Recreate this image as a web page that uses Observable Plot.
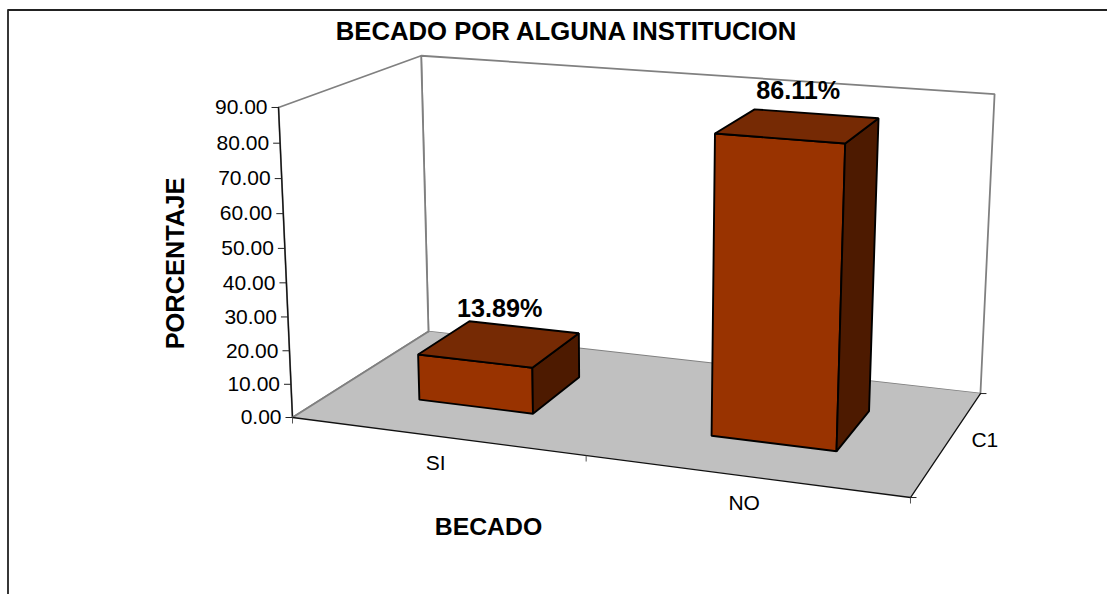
<!DOCTYPE html>
<html>
<head>
<meta charset="utf-8">
<style>html,body{margin:0;padding:0;background:#fff}svg{display:block}</style>
<script src="https://cdn.jsdelivr.net/npm/d3@7"></script>
<script src="https://cdn.jsdelivr.net/npm/@observablehq/plot@0.6"></script>
</head>
<body>
<div id="chart"></div>
<script>
const title = "BECADO POR ALGUNA INSTITUCION";
const categories = ["SI", "NO"];
const values = [13.89, 86.11];
const valueLabels = ["13.89%", "86.11%"];
const valueTicks = [0, 10, 20, 30, 40, 50, 60, 70, 80, 90];
const seriesLabel = "C1";
const yTitle = "PORCENTAJE";
const xTitle = "BECADO";

const vMax = 90;
const W = 1107, H = 594;
const FONT = "Liberation Sans, Arial, sans-serif";

// Perspective camera for the chart box: u = category axis (0..1), v = depth (0..1), value = 0..vMax
function project(u, v, val) {
  const w = val / vMax;
  const d = 1 - 0.0946 * u + 0.1316 * v - 0.04 * w;
  return [
    (292 + 531.9 * u + 192.3 * v - 25.1 * w) / d,
    (417 + 33 * u - 42.4 * v - 314.3 * w) / d
  ];
}
const pt = (u, v, val, id) => { const [x, y] = project(u, v, val); return {x, y, id}; };
const face = (id, corners) => corners.map(c => pt(c[0], c[1], c[2], id));

const floor = face("floor", [[0,0,0],[1,0,0],[1,1,0],[0,1,0]]);
const backWall = face("back", [[0,1,0],[1,1,0],[1,1,vMax],[0,1,vMax]]);
const leftWall = face("left", [[0,0,0],[0,1,0],[0,1,vMax],[0,0,vMax]]);

const n = categories.length;
const barHalf = 0.1, vFront = 0.3, vBack = 0.7;
const centers = categories.map((_, i) => (i + 0.5) / n);
const barFaces = kind => values.flatMap((val, i) => {
  const a = centers[i] - barHalf, b = centers[i] + barHalf, id = kind + i;
  if (kind === "front") return face(id, [[a,vFront,0],[b,vFront,0],[b,vFront,val],[a,vFront,val]]);
  if (kind === "top") return face(id, [[a,vFront,val],[b,vFront,val],[b,vBack,val],[a,vBack,val]]);
  return face(id, [[b,vFront,0],[b,vBack,0],[b,vBack,val],[b,vFront,val]]);
});

const poly = (data, fill, stroke, strokeWidth) => Plot.line(data, {
  x: "x", y: "y", z: "id", curve: "linear-closed", fill, stroke, strokeWidth, strokeLinejoin: "miter"
});
const seg = (p, q, stroke, strokeWidth) => Plot.line([p, q], {x: "x", y: "y", stroke, strokeWidth});

const valueTickLinks = valueTicks.map(t => {
  const p = pt(0, 0, t);
  return {x1: p.x - 7, x2: p.x, y: p.y, t};
});
const xTickAt = [0, 0.5, 1].map(u => pt(u, 0, 0));
const depthTickAt = [0, 1].map(v => pt(1, v, 0));
const catPts = categories.map((c, i) => ({...pt(centers[i], 0, 0), c}));
const labPts = values.map((val, i) => ({...pt(centers[i], 0.5, val), t: valueLabels[i]}));
const sPt = {...pt(1, 0.5, 0), t: seriesLabel};

const plot = Plot.plot({
  width: W, height: H,
  marginTop: 0, marginRight: 0, marginBottom: 0, marginLeft: 0,
  x: {type: "linear", domain: [0, W], range: [0, W], axis: null},
  y: {type: "linear", domain: [0, H], range: [0, H], axis: null},
  style: {fontFamily: FONT, background: "#fff", color: "#000"},
  marks: [
    // chart-area frame, open at the right and bottom of the crop
    Plot.line([{x: 7.5, y: H}, {x: 7.5, y: 9.5}, {x: W, y: 9.5}], {x: "x", y: "y", stroke: "#222", strokeWidth: 1.8}),
    poly(backWall, "#fff", "#808080", 1.8),
    poly(leftWall, "#fff", "#808080", 1.8),
    poly(floor, "#c0c0c0", "none", 0),
    seg(floor[0], leftWall[3], "#111", 1.3),
    seg(floor[3], backWall[0], "#808080", 1.8),
    seg(floor[0], floor[3], "#808080", 1.8),
    seg(floor[0], floor[1], "#111", 1.3),
    seg(floor[1], floor[2], "#111", 1.3),
    poly(barFaces("front"), "#993300", "#000", 1.9),
    poly(barFaces("side"), "#4d1a00", "#000", 1.9),
    poly(barFaces("top"), "#762a04", "#000", 1.9),
    Plot.link(valueTickLinks, {x1: "x1", x2: "x2", y1: "y", y2: "y", stroke: "#222", strokeWidth: 1}),
    Plot.link(xTickAt, {x1: "x", x2: "x", y1: "y", y2: d => d.y + 6, stroke: "#555", strokeWidth: 1}),
    Plot.link(depthTickAt, {x1: "x", x2: d => d.x + 6, y1: "y", y2: "y", stroke: "#222", strokeWidth: 1}),
    Plot.text(valueTickLinks, {x: "x1", y: "y", text: d => d.t.toFixed(2), textAnchor: "end", dx: -4, fontSize: 21, fill: "#000"}),
    Plot.text(catPts, {x: "x", y: "y", text: "c", dy: 27, fontSize: 21, fill: "#000"}),
    Plot.text([sPt], {x: "x", y: "y", text: "t", dx: 37, dy: -2, fontSize: 21, fill: "#000"}),
    Plot.text(labPts, {x: "x", y: "y", text: "t", dy: -35, fontSize: 25.2, fontWeight: "bold", fill: "#000"}),
    Plot.text([{x: 565.5, y: 31, t: title}], {x: "x", y: "y", text: "t", fontSize: 25.7, fontWeight: "bold", fill: "#000"}),
    Plot.text([{x: 488, y: 527, t: xTitle}], {x: "x", y: "y", text: "t", fontSize: 24.8, fontWeight: "bold", fill: "#000"}),
    Plot.text([{x: 175, y: 263, t: yTitle}], {x: "x", y: "y", text: "t", rotate: -90, fontSize: 25.4, fontWeight: "bold", fill: "#000"})
  ]
});
document.getElementById("chart").append(plot);
</script>
</body>
</html>
